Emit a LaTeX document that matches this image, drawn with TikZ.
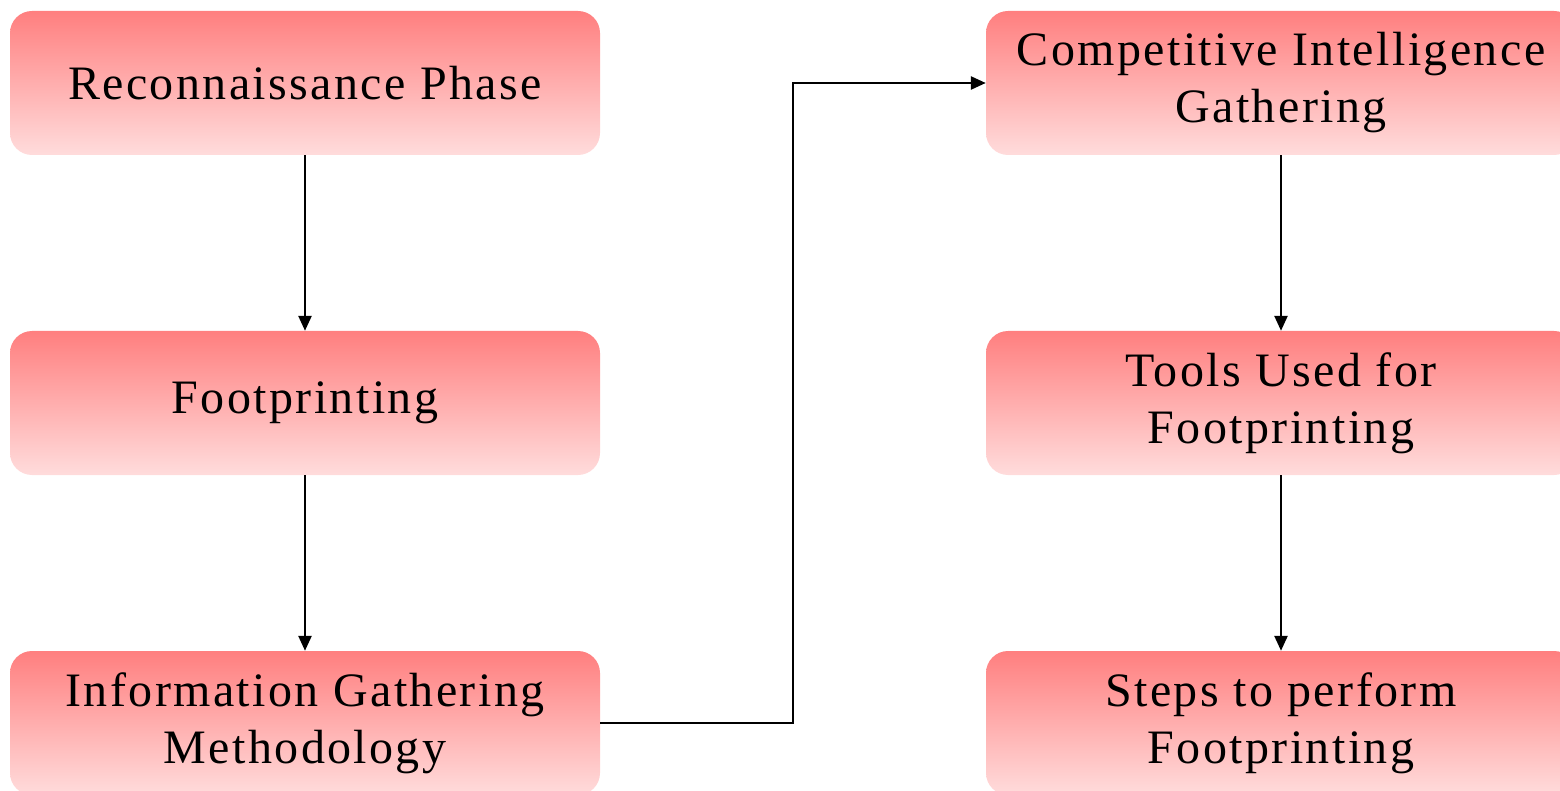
\documentclass[tikz,border=0pt]{standalone}
\usepackage{fontspec}
\setmainfont{Liberation Serif}[LetterSpace=5]
\usetikzlibrary{arrows.meta}
\definecolor{boxtop}{HTML}{FF7F7F}
\definecolor{boxbottom}{HTML}{FFDCDC}
\tikzset{
  stage/.style={rounded corners=22pt, top color=boxtop, bottom color=boxbottom,
    draw=none, minimum width=590pt, minimum height=144pt, inner sep=0pt,
    align=center, text=black, font=\fontsize{48}{57}\selectfont},
  link/.style={line width=2.5pt, -{Triangle[length=15pt,width=13pt]}}
}
\begin{document}
\begin{tikzpicture}[x=1pt,y=-1pt]
  \useasboundingbox (0,0) rectangle (1560,791);
  \clip (0,0) rectangle (1560,791);
  % left column
  \node[stage] (recon) at (305,83)  {Reconnaissance Phase};
  \node[stage] (foot)  at (305,403) {Footprinting};
  \node[stage] (info)  at (305,723) {Information Gathering\\Methodology};
  % right column
  \node[stage] (comp)  at (1281,83)  {Competitive Intelligence\\Gathering};
  \node[stage] (tools) at (1281,403) {Tools Used for\\Footprinting};
  \node[stage] (steps) at (1281,723) {Steps to perform\\Footprinting};
  % connectors
  \draw[link] (recon.south) -- (foot.north);
  \draw[link] (foot.south) -- (info.north);
  \coordinate (bend) at (793,0);
  \draw[link] (info.east) -| (bend |- comp.west) -- (comp.west);
  \draw[link] (comp.south) -- (tools.north);
  \draw[link] (tools.south) -- (steps.north);
\end{tikzpicture}
\end{document}
